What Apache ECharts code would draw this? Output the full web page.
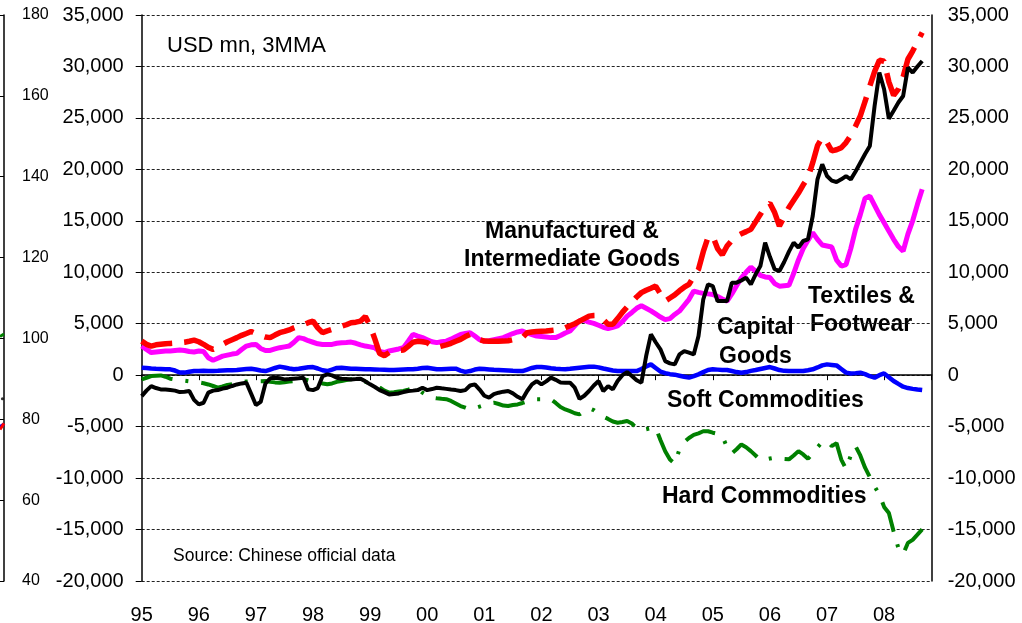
<!DOCTYPE html>
<html>
<head>
<meta charset="utf-8">
<script src="https://cdn.jsdelivr.net/npm/echarts@6/dist/echarts.min.js"></script>
<style>
  html, body { margin: 0; padding: 0; background: #fff; }
  #trade-chart { width: 1022px; height: 623px; }
</style>
</head>
<body>
<div id="trade-chart"></div>
<script>
// monthly, Jan 1995 (index 0) to Sep 2008, USD mn, 3MMA
var years = ['95', '96', '97', '98', '99', '00', '01', '02', '03', '04', '05', '06', '07', '08'];

var manufactured = [
    3310, 3000, 2830, 2950, 3000, 3050, 3090, 3120, 3150, 3200, 3300, 3410,
    3250, 3000, 2700, 2510, 2700, 3000, 3250, 3450, 3650, 3870, 4050, 4250,
    4050, 3850, 3700, 3650, 3900, 4130, 4250, 4400, 4600, 4770, 4900, 5100,
    5260, 4600, 4130, 4300, 4450, 4620, 4750, 4900, 5100, 5150, 5260, 5700,
    4800, 3500, 2100, 1900, 2200, 2350, 2400, 2440, 2800, 3200, 3300, 3250,
    3160, 2800, 2700, 2830, 2950, 3100, 3300, 3480, 3750, 3970, 3700, 3450,
    3310, 3300, 3300, 3300, 3310, 3350, 3450, 3550, 3650, 4130, 4200, 4250,
    4270, 4290, 4350, 4400, 4450, 4600, 4800, 5000, 5250, 5500, 5740, 5800,
    5810, 5400, 4940, 4940, 5500, 6100, 6640, 7100, 7600, 8020, 8250, 8450,
    8660, 7900, 7200, 7500, 7800, 8200, 8550, 8830, 9600, 10300, 12000, 13400,
    13500, 12300, 11700, 12550, 13100, 13520, 13750, 13950, 14170, 14900, 15630, 16400,
    16700, 15800, 14500, 15400, 16300, 17000, 17700, 18500, 19200, 20650, 22300, 23100,
    22600, 21800, 21900, 22100, 22600, 23300, 24200, 25200, 26600, 28100, 29500, 30600,
    30500, 28500, 27200, 27800, 29000, 30700, 31500, 32400, 33290
];

var capitalGoods = [
    -2030, -1500, -1060, -1250, -1380, -1400, -1450, -1500, -1640, -1600, -1540, -2400,
    -2840, -2680, -1700, -1500, -1450, -1300, -1220, -1050, -900, -800, -730, -1800,
    -2900, -2600, -800, -300, -240, -300, -410, -380, -340, -300, -240, -1380,
    -1450, -1250, -100, 80, -20, -250, -350, -380, -410, -380, -340, -600,
    -890, -1150, -1450, -1650, -1870, -1820, -1770, -1650, -1540, -1500, -1450, -1220,
    -1450, -1350, -1220, -1280, -1330, -1400, -1450, -1540, -1450, -1000, -890, -1400,
    -2000, -2190, -1850, -1700, -1600, -1540, -1770, -2100, -2350, -1540, -900, -570,
    -890, -600, -240, -450, -700, -730, -730, -1220, -2300, -2000, -1540, -1000,
    -570, -1540, -1060, -1380, -570, 0, 300, -80, -500, -730, 1860, 3970,
    3200, 2510, 1370, 1150, 1050, 2020, 2340, 2190, 2020, 3800, 7370, 8830,
    8660, 7200, 7200, 7200, 8990, 8990, 9200, 9480, 8830, 9800, 10600, 12880,
    11500, 10300, 10120, 11000, 12000, 12880, 12390, 13040, 13200, 15470, 19030, 20490,
    19350, 18900, 18770, 19030, 19350, 19030, 19800, 20650, 21500, 22270, 26160, 29400,
    27780, 24930, 25700, 26500, 27130, 29890, 29400, 30000, 30530
];

var textiles = [
    2830, 2500, 2200, 2250, 2300, 2340, 2350, 2400, 2440, 2400, 2300, 2250,
    2350, 2300, 1700, 1450, 1650, 1850, 1950, 2050, 2120, 2500, 2830, 2950,
    2990, 2600, 2400, 2400, 2550, 2670, 2750, 2830, 3200, 3650, 3550, 3350,
    3200, 3050, 2990, 2990, 2990, 3100, 3160, 3180, 3220, 3100, 2950, 2830,
    2750, 2650, 2300, 2200, 2350, 2450, 2550, 2670, 3300, 3970, 3800, 3650,
    3450, 3250, 3160, 3250, 3310, 3500, 3740, 3950, 4050, 4130, 3800, 3450,
    3310, 3350, 3450, 3550, 3650, 3850, 4050, 4200, 4290, 4100, 3950, 3800,
    3750, 3700, 3650, 3650, 3850, 4100, 4290, 4800, 5300, 5350, 5150, 5030,
    4850, 4650, 4520, 4650, 4800, 5200, 5740, 6100, 6500, 6750, 6500, 6250,
    5950, 5650, 5400, 5500, 5900, 6230, 6800, 7370, 8170, 8050, 7950, 7900,
    7850, 7650, 7400, 7200, 7900, 8700, 9450, 10000, 10500, 10100, 9700, 9550,
    9500, 8900, 8650, 8700, 8730, 9900, 11200, 12300, 13100, 13850, 13200, 12650,
    12550, 12450, 11200, 10600, 10750, 12300, 14170, 15600, 17200, 17400, 16500, 15600,
    14820, 14000, 13200, 12500, 12060, 13700, 15000, 16600, 18060
];

var softCommodities = [
    730, 700, 650, 620, 600, 580, 570, 450, 260, 250, 330, 400,
    400, 420, 400, 400, 420, 450, 470, 480, 500, 560, 600, 630,
    550, 450, 400, 550, 700, 830, 750, 650, 570, 620, 700, 770,
    790, 650, 480, 400, 550, 700, 720, 680, 630, 620, 600, 580,
    570, 560, 540, 520, 500, 510, 530, 550, 570, 570, 630, 700,
    730, 650, 570, 580, 600, 620, 630, 450, 320, 400, 550, 630,
    600, 560, 520, 500, 480, 460, 430, 410, 400, 550, 700, 800,
    800, 750, 680, 620, 590, 570, 620, 680, 730, 780, 820, 830,
    760, 650, 550, 450, 400, 400, 400, 400, 400, 600, 850, 1050,
    700, 350, 200, 100, 50, -50, -150, -240, -100, 80, 300, 500,
    570, 540, 510, 500, 400, 300, 240, 300, 420, 500, 600, 700,
    790, 650, 500, 420, 400, 400, 400, 400, 480, 570, 750, 950,
    1050, 1000, 950, 600, 250, 170, 200, 240, 100, -100, -240, 0,
    170, -200, -570, -850, -1120, -1250, -1330, -1400, -1450
];

var hardCommodities = [
    -410, -250, -80, -50, -20, -150, -340, -420, -480, -540, -600, -650,
    -700, -780, -900, -1050, -1220, -1100, -950, -890, -800, -700, -620, -570,
    -570, -580, -570, -650, -700, -730, -680, -620, -570, -500, -410, -500,
    -630, -720, -800, -880, -800, -650, -570, -480, -400, -340, -500, -650,
    -800, -890, -1200, -1500, -1700, -1650, -1580, -1540, -1400, -1250, -1300, -1700,
    -2000, -2190, -2250, -2300, -2330, -2500, -2750, -3000, -3150, -3330, -3200, -3050,
    -2900, -2750, -2670, -2800, -2950, -3000, -2900, -2840, -2700, -2550, -2400, -2350,
    -2350, -2350, -2350, -2700, -3100, -3330, -3500, -3700, -3810, -3500, -3200, -3400,
    -3750, -4030, -4250, -4500, -4620, -4550, -4460, -4700, -5150, -5340, -5250, -5150,
    -5100, -6300, -7400, -8200, -8600, -7200, -6500, -6100, -5800, -5650, -5450, -5450,
    -5590, -5700, -5920, -7000, -7600, -7200, -6730, -7000, -7380, -7800, -8250, -8200,
    -8100, -8020, -8100, -8150, -8180, -7800, -7380, -7700, -8120, -7600, -7000, -6500,
    -6400, -6890, -6600, -8200, -9100, -7800, -6900, -7800, -8990, -9900, -10800, -11600,
    -12800, -13400, -15200, -16800, -17400, -16300, -16000, -15500, -14990
];

// right-hand axis of the neighbouring chart, cut off at the left edge
var prevTicks = [40, 60, 80, 100, 120, 140, 160, 180];
var prevGreen = [100.5, 101.1];
var prevRed = [77.5, 79.0];
var prevBlue = [78.2, 78.8];
var prevBlack = [85.1];

var FONT = '"Liberation Sans", Arial, sans-serif';

function toPairs(values) {
    return values.map(function (v, i) { return [i, v]; });
}

function yearLabel(v) {
    if (v % 12 !== 0) return '';
    return years[v / 12] || '';
}

function commas(v) {
    return echarts.format.addCommas(v);
}

var myChart = echarts.init(document.getElementById('trade-chart'), null, { renderer: 'canvas' });

var gridLine = { show: true, lineStyle: { color: '#222', width: 1, type: [3, 2] } };

var option = {
    animation: false,
    backgroundColor: '#fff',
    grid: [
        { left: 141.7, right: 90.3, top: 15, bottom: 42, containLabel: false, outerBoundsMode: 'none' },
        { left: 0, width: 4, top: 15, bottom: 42, containLabel: false, outerBoundsMode: 'none' }
    ],
    xAxis: [
        {
            gridIndex: 0, type: 'value', min: 0, max: 166, interval: 12,
            position: 'bottom',
            axisLine: { show: false, onZero: false },
            axisTick: { show: false },
            splitLine: { show: false },
            axisLabel: {
                formatter: yearLabel, showMaxLabel: false, showMinLabel: true,
                color: '#000', fontSize: 20, fontFamily: FONT, margin: 24
            }
        },
        {
            gridIndex: 0, type: 'value', min: 0, max: 166, interval: 12,
            position: 'bottom',
            axisLine: { show: true, onZero: true, onZeroAxisIndex: 0, lineStyle: { color: '#000', width: 1.5 } },
            axisTick: { show: true, length: 5, lineStyle: { color: '#000', width: 1 } },
            axisLabel: { show: false },
            splitLine: { show: false }
        },
        {
            gridIndex: 1, type: 'value', min: 0, max: 1, show: false
        }
    ],
    yAxis: [
        {
            gridIndex: 0, type: 'value', min: -20000, max: 35000, interval: 5000,
            position: 'left',
            axisLine: { show: true, onZero: false, lineStyle: { color: '#000', width: 1.5 } },
            axisTick: { show: true, length: 6, lineStyle: { color: '#000' } },
            splitLine: gridLine,
            axisLabel: { formatter: commas, color: '#000', fontSize: 20, fontFamily: FONT, margin: 18 }
        },
        {
            gridIndex: 0, type: 'value', min: -20000, max: 35000, interval: 5000,
            position: 'right',
            axisLine: { show: true, onZero: false, lineStyle: { color: '#000', width: 1.5 } },
            axisTick: { show: false },
            splitLine: { show: false },
            axisLabel: { formatter: commas, color: '#000', fontSize: 20, fontFamily: FONT, margin: 16 }
        },
        {
            gridIndex: 1, type: 'value', min: prevTicks[0], max: prevTicks[prevTicks.length - 1], interval: 20,
            position: 'right',
            axisLine: { show: true, onZero: false, lineStyle: { color: '#000', width: 1.5 } },
            axisTick: { show: true, inside: true, length: 4, lineStyle: { color: '#000' } },
            splitLine: { show: false },
            axisLabel: { color: '#000', fontSize: 16, fontFamily: FONT, margin: 18 }
        }
    ],
    series: [
        {
            name: 'Hard Commodities', type: 'line', xAxisIndex: 0, yAxisIndex: 0,
            data: toPairs(hardCommodities), showSymbol: false, z: 2,
            lineStyle: { color: '#008000', width: 4, type: [32, 13, 3, 13], cap: 'butt' }
        },
        {
            name: 'Soft Commodities', type: 'line', xAxisIndex: 0, yAxisIndex: 0,
            data: toPairs(softCommodities), showSymbol: false, z: 3,
            lineStyle: { color: '#0000ff', width: 4.5 }
        },
        {
            name: 'Textiles & Footwear', type: 'line', xAxisIndex: 0, yAxisIndex: 0,
            data: toPairs(textiles), showSymbol: false, z: 4,
            lineStyle: { color: '#ff00ff', width: 5 }
        },
        {
            name: 'Manufactured & Intermediate Goods', type: 'line', xAxisIndex: 0, yAxisIndex: 0,
            data: toPairs(manufactured), showSymbol: false, z: 5,
            lineStyle: { color: '#ff0000', width: 5.5, type: [32, 12], cap: 'butt' }
        },
        {
            name: 'Capital Goods', type: 'line', xAxisIndex: 0, yAxisIndex: 0,
            data: toPairs(capitalGoods), showSymbol: false, z: 6,
            lineStyle: { color: '#000', width: 4 }
        },
        // fragments of the neighbouring chart
        {
            type: 'line', xAxisIndex: 2, yAxisIndex: 2, showSymbol: false, silent: true,
            data: prevGreen.map(function (v, i) { return [i, v]; }),
            lineStyle: { color: '#008000', width: 3 }
        },
        {
            type: 'line', xAxisIndex: 2, yAxisIndex: 2, showSymbol: false, silent: true,
            data: prevBlue.map(function (v, i) { return [i, v]; }),
            lineStyle: { color: '#0000ff', width: 3 }
        },
        {
            type: 'line', xAxisIndex: 2, yAxisIndex: 2, showSymbol: false, silent: true,
            data: prevRed.map(function (v, i) { return [i, v]; }),
            lineStyle: { color: '#ff0000', width: 3 }
        },
        {
            type: 'scatter', xAxisIndex: 2, yAxisIndex: 2, silent: true,
            data: prevBlack.map(function (v) { return [0.6, v]; }),
            symbolSize: 3, itemStyle: { color: '#000' }
        }
    ],
    graphic: [
        { type: 'text', left: 167, top: 35, style: { text: 'USD mn, 3MMA', font: '22px ' + FONT, fill: '#000' } },
        { type: 'text', left: 173, top: 547, style: { text: 'Source: Chinese official data', font: '17.5px ' + FONT, fill: '#000' } },
        { type: 'text', x: 572, y: 232, style: { text: 'Manufactured &', font: 'bold 23px ' + FONT, fill: '#000', textAlign: 'center', textVerticalAlign: 'middle' } },
        { type: 'text', x: 572, y: 260, style: { text: 'Intermediate Goods', font: 'bold 23px ' + FONT, fill: '#000', textAlign: 'center', textVerticalAlign: 'middle' } },
        { type: 'text', x: 717, y: 328, style: { text: 'Capital', font: 'bold 23px ' + FONT, fill: '#000', textVerticalAlign: 'middle' } },
        { type: 'text', x: 719, y: 357, style: { text: 'Goods', font: 'bold 23px ' + FONT, fill: '#000', textVerticalAlign: 'middle' } },
        { type: 'text', x: 808, y: 297, style: { text: 'Textiles &', font: 'bold 23px ' + FONT, fill: '#000', textVerticalAlign: 'middle' } },
        { type: 'text', x: 810, y: 325, style: { text: 'Footwear', font: 'bold 23px ' + FONT, fill: '#000', textVerticalAlign: 'middle' } },
        { type: 'text', x: 667, y: 401, style: { text: 'Soft Commodities', font: 'bold 23px ' + FONT, fill: '#000', textVerticalAlign: 'middle' } },
        { type: 'text', x: 662, y: 497, style: { text: 'Hard Commodities', font: 'bold 23px ' + FONT, fill: '#000', textVerticalAlign: 'middle' } }
    ]
};

myChart.setOption(option);
</script>
</body>
</html>
